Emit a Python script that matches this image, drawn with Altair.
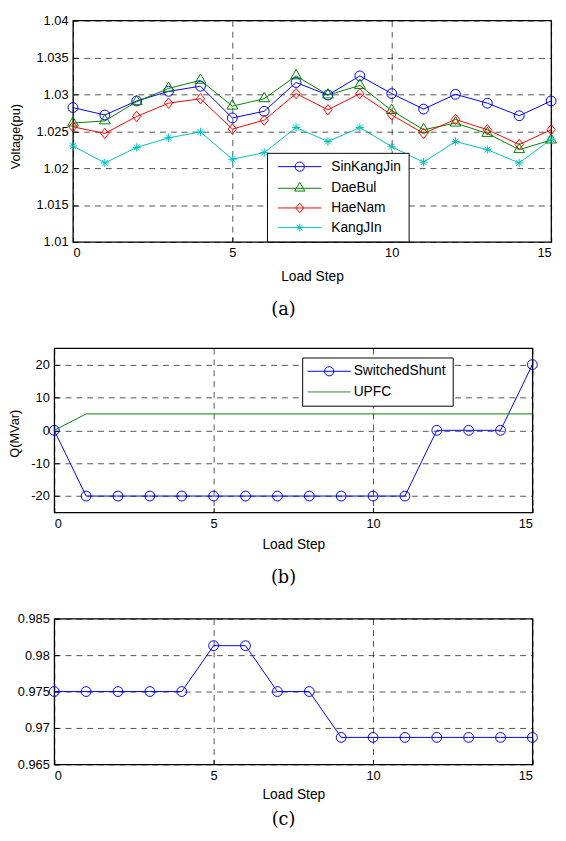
import altair as alt
import pandas as pd

# ---------------- data ----------------
steps = list(range(16))

names_a = ["SinKangJin", "DaeBul", "HaeNam", "KangJIn"]
sinkangjin = [1.0282, 1.0272, 1.0291, 1.0304, 1.0311, 1.0268, 1.0277, 1.0316,
              1.0299, 1.0325, 1.0301, 1.0280, 1.0300, 1.0288, 1.0271, 1.0291]
daebul = [1.0261, 1.0264, 1.0290, 1.0308, 1.0319, 1.0284, 1.0294, 1.0325,
          1.0299, 1.0312, 1.0278, 1.0252, 1.0261, 1.0247, 1.0225, 1.0238]
haenam = [1.0256, 1.0247, 1.0270, 1.0288, 1.0294, 1.0253, 1.0265, 1.0301,
          1.0279, 1.0301, 1.0272, 1.0247, 1.0266, 1.0252, 1.0232, 1.0252]
kangjin = [1.0230, 1.0207, 1.0228, 1.0241, 1.0249, 1.0212, 1.0221, 1.0255,
           1.0236, 1.0255, 1.0229, 1.0208, 1.0236, 1.0225, 1.0207, 1.0239]

names_b = ["SwitchedShunt", "UPFC"]
switched_shunt = [0, -20, -20, -20, -20, -20, -20, -20, -20, -20, -20, -20, 0, 0, 0, 20]
upfc = [0, 5, 5, 5, 5, 5, 5, 5, 5, 5, 5, 5, 5, 5, 5, 5]

tap_ratio = [0.975, 0.975, 0.975, 0.975, 0.975, 0.9813, 0.9813, 0.975,
             0.975, 0.9687, 0.9687, 0.9687, 0.9687, 0.9687, 0.9687, 0.9687]

x_ticks = [0, 5, 10, 15]
y_ticks_a = [1.01, 1.015, 1.02, 1.025, 1.03, 1.035, 1.04]
y_ticks_b = [-20, -10, 0, 10, 20]
y_ticks_c = [0.965, 0.97, 0.975, 0.98, 0.985]

df_a = pd.DataFrame({
    "step": steps * 4,
    "series": sum([[n] * 16 for n in names_a], []),
    "value": sinkangjin + daebul + haenam + kangjin,
})
df_b = pd.DataFrame({
    "step": steps * 2,
    "series": sum([[n] * 16 for n in names_b], []),
    "value": switched_shunt + upfc,
})
df_c = pd.DataFrame({"step": steps, "value": tap_ratio})
df_one = pd.DataFrame({"s": [0]})

# ---------------- styles ----------------
FONT = "Liberation Sans"
SERIF = "DejaVu Serif"
colors_a = ["#0000ff", "#008000", "#ff0000", "#00bfbf"]
colors_b = ["#0000ff", "#2a8f2a"]

CIRCLE = "M1,0A1,1,0,1,1,-1,0A1,1,0,1,1,1,0Z"
TRI = "M0,-1.3L1.1,0.6L-1.1,0.6Z"
DIAM = "M0,-1.05L0.85,0L0,1.05L-0.85,0Z"
STAR = "M0,-0.85L0,0.85M-0.85,0L0.85,0M-0.6,-0.6L0.6,0.6M-0.6,0.6L0.6,-0.6"
TAIL = "M-4.68,0L4.68,0"
marker_paths_a = [CIRCLE, TRI, DIAM, STAR]
legend_paths_a = [TAIL + p for p in marker_paths_a]
legend_paths_b = [TAIL + CIRCLE, TAIL]

W = 486
HA, HB, HC = 225, 167, 148


def x_enc(title_y, flush=False):
    kw = dict(values=x_ticks, format="d", title="Load Step", offset=-5,
              labelPadding=5, titleFontSize=14, titleX=W / 2,
              titleY=title_y, titleBaseline="alphabetic")
    if flush:
        kw["labelFlush"] = True
    return alt.X("step:Q", scale=alt.Scale(domain=[0, 15], nice=False, zero=False),
                 axis=alt.Axis(**kw))


def y_enc(dom, vals, fmt, title, tx, ty, expr=None):
    kw = dict(values=vals, title=title, offset=-5, labelPadding=5, titleX=tx, titleY=ty,
              titleAngle=270, titleAlign="center", titleBaseline="middle")
    if expr:
        kw["labelExpr"] = expr
    else:
        kw["format"] = fmt
    return alt.Y("value:Q", scale=alt.Scale(domain=dom, nice=False, zero=False),
                 axis=alt.Axis(**kw))


def spacer(x, y):
    return alt.Chart(df_one).mark_text(text=" ", fontSize=1, opacity=0, align="left",
                                       baseline="top").encode(x=alt.value(x), y=alt.value(y))


def panel_title(t, off, dx):
    return alt.TitleParams(t, orient="bottom", anchor="middle", font=SERIF, fontSize=18,
                           fontWeight="normal", color="black", offset=off, dx=dx)


def make_legend(lx, ly, pad, soff, loff, rowpad):
    return alt.Legend(title=None, orient="none", legendX=lx, legendY=ly, direction="vertical",
                      strokeColor="black", fillColor="white", padding=pad, symbolSize=88,
                      symbolStrokeWidth=1, symbolOpacity=1, symbolOffset=soff, labelOffset=loff,
                      labelFont=FONT, labelFontSize=14, labelColor="black", rowPadding=rowpad,
                      cornerRadius=0, labelLimit=0)


def row(panel):
    blank = spacer(0, 0).properties(
        width=1, height=1, view=alt.ViewBackground(stroke="transparent", strokeWidth=0))
    return alt.hconcat(blank, panel, spacing=0)


# ---------------- panel (a) ----------------
xa = x_enc(44.5, flush=True)
ya = y_enc([1.01, 1.04], y_ticks_a, ".4~f", "Voltage(pu)", -63, HA / 2 + 5)
base_a = alt.Chart(df_a).encode(x=xa, y=ya)
line_a = base_a.mark_line(strokeWidth=1).encode(
    stroke=alt.Stroke("series:N", scale=alt.Scale(domain=names_a, range=colors_a), legend=None))
pts_a = [
    base_a.transform_filter(alt.datum.series == n).mark_point(
        filled=False, size=100, strokeWidth=1, opacity=1, shape=p, color=c)
    for n, p, c in zip(names_a, marker_paths_a, colors_a)
]
leg_a = make_legend(197.2, 134.5, 7, 19.3, 25, 6)
lg_a = base_a.mark_point(filled=False, size=0, strokeWidth=1, opacity=1).encode(
    color=alt.Color("series:N", scale=alt.Scale(domain=names_a, range=colors_a), legend=leg_a),
    shape=alt.Shape("series:N", scale=alt.Scale(domain=names_a, range=legend_paths_a), legend=leg_a))
panel_a = alt.layer(line_a, *pts_a, lg_a, spacer(-140, -8)).resolve_scale(
    color="independent", shape="independent").properties(
    width=W, height=HA, title=panel_title("(a)", 18, -29))

# ---------------- panel (b) ----------------
xb = x_enc(42)
yb = y_enc([-25, 25], y_ticks_b, None, "Q(MVar)", -45, HB / 2 + 3, expr="'' + datum.value")
base_b = alt.Chart(df_b).encode(x=xb, y=yb)
line_b = base_b.mark_line(strokeWidth=1).encode(
    stroke=alt.Stroke("series:N", scale=alt.Scale(domain=names_b, range=colors_b), legend=None))
pts_b = base_b.transform_filter(alt.datum.series == names_b[0]).mark_point(
    filled=False, size=100, strokeWidth=1, opacity=1, shape=CIRCLE, color=colors_b[0])
leg_b = make_legend(252, 9.5, 7, 13.4, 17.9, 7)
lg_b = base_b.mark_point(filled=False, size=0, strokeWidth=1, opacity=1).encode(
    color=alt.Color("series:N", scale=alt.Scale(domain=names_b, range=colors_b), legend=leg_b),
    shape=alt.Shape("series:N", scale=alt.Scale(domain=names_b, range=legend_paths_b), legend=leg_b))
panel_b = alt.layer(line_b, pts_b, lg_b, spacer(-121, -10.5)).resolve_scale(
    color="independent", shape="independent").properties(
    width=W, height=HB, title=panel_title("(b)", 17.3, -10))

# ---------------- panel (c) ----------------
xc = x_enc(39.5)
yc = y_enc([0.965, 0.985], y_ticks_c, ".3~f", "Tap Ratio", -62.5, HC / 2)
base_c = alt.Chart(df_c).encode(x=xc, y=yc)
line_c = base_c.mark_line(strokeWidth=1, color="#0000ff")
pts_c = base_c.mark_point(filled=False, size=100, strokeWidth=1, opacity=1, shape=CIRCLE, color="#0000ff")
panel_c = alt.layer(line_c, pts_c, spacer(-121, -14.8)).properties(
    width=W, height=HC, title=panel_title("(c)", 10, -10))

chart = alt.vconcat(row(panel_a), row(panel_b), row(panel_c), spacing=16).properties(
    padding={"left": -76, "top": -3, "right": -2, "bottom": -6},
    background="white",
).configure_view(
    stroke="black", strokeWidth=1.3
).configure_axis(
    grid=True, gridColor="black", gridDash=[6, 5], gridWidth=0.8, gridOpacity=0.85,
    domain=False, ticks=True, tickColor="black", tickSize=5, tickWidth=1,
    labelFont=FONT, labelFontSize=13, labelColor="black",
    titleFont=FONT, titleFontSize=13, titleFontWeight="normal", titleColor="black",
)

chart.save("out.html", embed_options={"renderer": "svg", "actions": False})
